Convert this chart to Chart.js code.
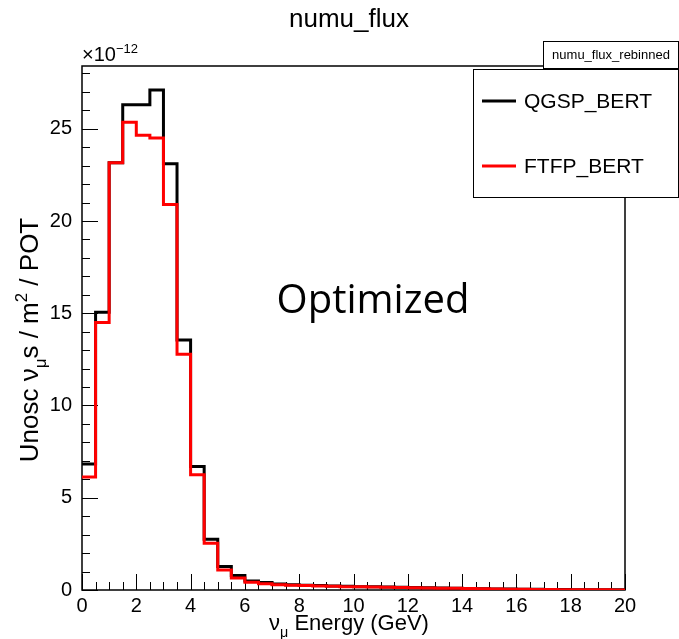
<!DOCTYPE html>
<html>
<head>
<meta charset="utf-8">
<script src="https://cdn.jsdelivr.net/npm/chart.js@4.4.1/dist/chart.umd.min.js"></script>
<style>
  html, body { margin: 0; padding: 0; background: #fff; }
  #c { display: block; }
</style>
</head>
<body>
<canvas id="c" width="679" height="639"></canvas>
<script>
// bin edges in GeV (0.5 GeV bins)
const binEdges = [0, 0.5, 1, 1.5, 2, 2.5, 3, 3.5, 4, 4.5, 5, 5.5, 6, 6.5, 7, 7.5, 8, 8.5, 9, 9.5,
  10, 10.5, 11, 11.5, 12, 12.5, 13, 13.5, 14, 14.5, 15, 15.5, 16, 16.5, 17, 17.5, 18, 18.5, 19, 19.5, 20];

// flux per bin, in units of 1e-12
const qgspBert = [6.83, 15.05, 23.15, 26.3, 26.3, 27.1, 23.1, 13.55, 6.7, 2.75,
  1.27, 0.78, 0.49, 0.40, 0.33, 0.29, 0.26, 0.24, 0.22, 0.20,
  0.18, 0.17, 0.16, 0.15, 0.13, 0.12, 0.11, 0.10, 0.08, 0.07,
  0.06, 0.05, 0.04, 0.035, 0.03, 0.025, 0.02, 0.015, 0.01, 0.008];
const ftfpBert = [6.13, 14.5, 23.15, 25.35, 24.65, 24.5, 20.9, 12.78, 6.25, 2.53,
  1.08, 0.65, 0.42, 0.34, 0.29, 0.26, 0.24, 0.22, 0.20, 0.18,
  0.17, 0.16, 0.15, 0.14, 0.12, 0.11, 0.10, 0.09, 0.075, 0.065,
  0.055, 0.045, 0.035, 0.03, 0.025, 0.02, 0.015, 0.012, 0.008, 0.006];

const xTicks = [0, 2, 4, 6, 8, 10, 12, 14, 16, 18, 20];
const yTicks = [0, 5, 10, 15, 20, 25];

const FONT = "'Liberation Sans', Arial, sans-serif";

function toSteps(vals) {
  return binEdges.map((e, i) => ({ x: e, y: vals[Math.min(i, vals.length - 1)] }));
}

// draws text made of pieces, some of them sub/superscripts
function richText(ctx, parts, x, y, size, align) {
  const pieces = parts.map((p) => {
    const s = p.sub || p.sup ? size * 0.65 : size;
    ctx.font = s + "px " + FONT;
    return { t: p.t, s, dy: p.sub ? size * 0.3 : p.sup ? -size * 0.42 : 0, w: ctx.measureText(p.t).width };
  });
  const total = pieces.reduce((a, p) => a + p.w, 0);
  let cx = align === "center" ? x - total / 2 : align === "right" ? x - total : x;
  ctx.textAlign = "left";
  ctx.textBaseline = "alphabetic";
  pieces.forEach((p) => {
    ctx.font = p.s + "px " + FONT;
    ctx.fillText(p.t, cx, y + p.dy);
    cx += p.w;
  });
}

const rootStyle = {
  id: "rootStyle",
  beforeDatasetsDraw(chart) {
    const { ctx, chartArea: a, scales } = chart;
    ctx.save();
    ctx.strokeStyle = "#000";
    ctx.lineWidth = 1;
    // y ticks, pointing inward
    for (let v = 0; v <= 28; v++) {
      const py = Math.round(scales.y.getPixelForValue(v)) + 0.5;
      const len = v % 5 === 0 ? 16 : 8;
      ctx.beginPath();
      ctx.moveTo(a.left, py);
      ctx.lineTo(a.left + len, py);
      ctx.stroke();
    }
    // x ticks
    for (let i = 0; i <= 40; i++) {
      const v = i * 0.5;
      const px = Math.round(scales.x.getPixelForValue(v)) + 0.5;
      const len = i % 4 === 0 ? 16 : 8;
      ctx.beginPath();
      ctx.moveTo(px, a.bottom);
      ctx.lineTo(px, a.bottom - len);
      ctx.stroke();
    }
    ctx.lineWidth = 1.5;
    ctx.strokeRect(a.left, a.top, a.right - a.left, a.bottom - a.top);
    ctx.restore();
  },
  afterDraw(chart) {
    const { ctx, chartArea: a } = chart;
    ctx.save();
    ctx.fillStyle = "#000";

    // title
    ctx.font = "26px " + FONT;
    ctx.textAlign = "center";
    ctx.textBaseline = "alphabetic";
    ctx.fillText("numu_flux", 349, 27);

    // exponent
    richText(ctx, [{ t: "×10" }, { t: "−12", sup: true }], a.left, 61, 20, "left");

    // axis titles
    richText(ctx, [{ t: "ν" }, { t: "μ", sub: true }, { t: " Energy (GeV)" }], 349, 630, 22, "center");
    ctx.save();
    ctx.translate(38, 340);
    ctx.rotate(-Math.PI / 2);
    richText(ctx, [{ t: "Unosc ν" }, { t: "μ", sub: true }, { t: "s / m" }, { t: "2", sup: true }, { t: " / POT" }], 0, 0, 26, "center");
    ctx.restore();

    // annotation
    ctx.font = "40px 'Open Sans', sans-serif";
    ctx.textAlign = "center";
    ctx.fillText("Optimized", 373, 313);

    // histogram name box
    ctx.fillStyle = "#fff";
    ctx.fillRect(543.5, 41.5, 135, 27);
    ctx.strokeStyle = "#000";
    ctx.lineWidth = 1;
    ctx.strokeRect(543.5, 41.5, 135, 27);
    ctx.fillStyle = "#000";
    ctx.font = "13px " + FONT;
    ctx.textBaseline = "middle";
    ctx.fillText("numu_flux_rebinned", 611, 55);

    // legend box
    ctx.fillStyle = "#fff";
    ctx.fillRect(473.5, 69.5, 205, 128);
    ctx.strokeRect(473.5, 69.5, 205, 128);
    const entries = [
      { label: "QGSP_BERT", color: "#000", y: 101 },
      { label: "FTFP_BERT", color: "#ff0000", y: 166 },
    ];
    ctx.textAlign = "left";
    ctx.font = "21px " + FONT;
    entries.forEach((e) => {
      ctx.strokeStyle = e.color;
      ctx.lineWidth = 3;
      ctx.beginPath();
      ctx.moveTo(482, e.y);
      ctx.lineTo(516, e.y);
      ctx.stroke();
      ctx.fillStyle = "#000";
      ctx.fillText(e.label, 524, e.y + 1);
    });
    ctx.restore();
  },
};

new Chart(document.getElementById("c").getContext("2d"), {
  type: "line",
  data: {
    datasets: [
      {
        label: "QGSP_BERT",
        data: toSteps(qgspBert),
        borderColor: "#000",
        borderWidth: 3,
        stepped: "before",
        pointRadius: 0,
        fill: false,
        order: 1,
      },
      {
        label: "FTFP_BERT",
        data: toSteps(ftfpBert),
        borderColor: "#ff0000",
        borderWidth: 3,
        stepped: "before",
        pointRadius: 0,
        fill: false,
        order: 0,
      },
    ],
  },
  options: {
    responsive: false,
    animation: false,
    layout: { padding: { top: 66, right: 54, left: 0, bottom: 0 } },
    plugins: { legend: { display: false }, tooltip: { enabled: false } },
    scales: {
      x: {
        type: "linear",
        min: 0,
        max: 20,
        afterFit: (s) => { s.height = 49; },
        afterBuildTicks: (s) => { s.ticks = xTicks.map((v) => ({ value: v })); },
        grid: { display: false, drawTicks: false },
        border: { display: false },
        ticks: { color: "#000", font: { family: FONT, size: 20 }, padding: 4, maxRotation: 0 },
      },
      y: {
        min: 0,
        max: 28.4,
        afterFit: (s) => { s.width = 82; },
        afterBuildTicks: (s) => { s.ticks = yTicks.map((v) => ({ value: v })); },
        grid: { display: false, drawTicks: false },
        border: { display: false },
        ticks: { color: "#000", font: { family: FONT, size: 20 }, padding: 10 },
      },
    },
  },
  plugins: [rootStyle],
});
</script>
</body>
</html>
